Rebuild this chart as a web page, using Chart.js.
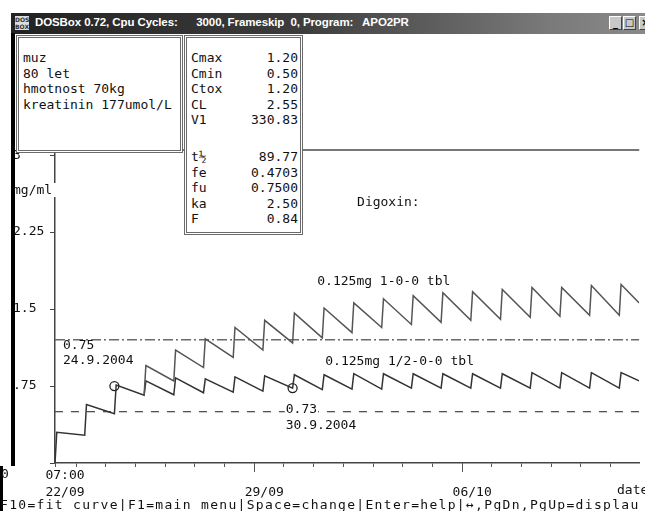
<!DOCTYPE html>
<html>
<head>
<meta charset="utf-8">
<title>APO2PR - Digoxin</title>
<script src="https://cdn.jsdelivr.net/npm/chart.js"></script>
<style>
  body { margin: 0; background: #fff; }
  #okno { position: relative; width: 645px; height: 511px; overflow: hidden; background: #fff; }
  #graf { position: absolute; left: 0; top: 0; }
  .dos { font-family: "DejaVu Sans Mono", monospace; font-size: 13px; color: #111; white-space: pre; }
  #titulek {
    position: absolute; left: 11px; top: 13px; width: 634px; height: 21px;
    background: linear-gradient(to right, #222 0%, #3c3c3c 45%, #7a7a7a 85%, #8a8a8a 100%);
  }
  #titulek .txt {
    position: absolute; left: 24px; top: 3px; color: #fff; font: bold 11.5px "Liberation Sans", sans-serif;
    white-space: pre; letter-spacing: -0.1px;
  }
  #titulek .ikona {
    position: absolute; left: 4px; top: 3px; width: 14px; height: 14px; background: #ddd;
    font: bold 6px "DejaVu Sans", sans-serif; line-height: 7px; color: #333; text-align: center;
  }
  .tl {
    position: absolute; top: 3px; width: 13px; height: 14px; background: #c8c8c8;
    border: 1px solid; border-color: #fff #444 #444 #fff; box-sizing: border-box;
    font: bold 10px "DejaVu Sans", sans-serif; line-height: 12px; text-align: center; color: #000;
  }
  #ram { position: absolute; left: 11px; top: 33px; width: 4px; height: 433px; background: #000; z-index: 5; }
  #ram2 { position: absolute; left: 0; top: 466px; width: 3px; height: 45px; background: #000; z-index: 5; }
  .box {
    position: absolute; top: 35px; box-sizing: border-box; background: #fff;
    border: 3px double #6a6a6a; z-index: 3;
  }
  #box1 { left: 16px; width: 167px; height: 118px; }
  #box2 { left: 184px; width: 119px; height: 200px; }
  .radky { position: absolute; line-height: 15.6px; }
  .radek { position: relative; height: 15.6px; }
  .radek .h { position: absolute; right: 0; top: 0; }
  #jednotka { position: absolute; left: 13px; top: 183px; height: 14px; width: 43px; line-height: 14px; background: #fff; z-index: 2; }
  #nula { position: absolute; left: 1px; top: 467px; line-height: 14px; z-index: 6; }
  #osa { position: absolute; left: 617px; top: 483px; line-height: 14px; }
  #stav { position: absolute; left: 0; top: 498px; line-height: 14px; letter-spacing: 1.31px; z-index: 6; }
</style>
</head>
<body>
<div id="okno">
  <canvas id="graf" width="645" height="511"></canvas>

  <div id="titulek">
    <div class="ikona">DOS<br>BOX</div>
    <div class="txt">DOSBox 0.72, Cpu Cycles:      3000, Frameskip  0, Program:   APO2PR</div>
    <div class="tl" style="left:598px">_</div>
    <div class="tl" style="left:612px">&#9633;</div>
    <div class="tl" style="left:628px">&#215;</div>
  </div>
  <div id="ram"></div>
  <div id="ram2"></div>

  <div class="box" id="box1">
    <div class="radky dos" id="pacient" style="left:4px; top:12px;"></div>
  </div>
  <div class="box" id="box2">
    <div class="radky dos" id="parA" style="left:4px; top:12px; width:107px;"></div>
    <div class="radky dos" id="parB" style="left:4px; top:111px; width:107px;"></div>
  </div>

  <div id="jednotka" class="dos">mg/ml</div>
  <div id="nula" class="dos">0</div>
  <div id="osa" class="dos">date</div>
  <div id="stav" class="dos">F10=fit curve|F1=main menu|Space=change|Enter=help|&#8596;,PgDn,PgUp=displau</div>
</div>

<script>
  // udaje o pacientovi a parametry modelu
  const pacient = ['muz', '80 let', 'hmotnost 70kg', 'kreatinin 177umol/L'];
  const parNazvy1 = ['Cmax', 'Cmin', 'Ctox', 'CL', 'V1'];
  const parHodnoty1 = ['1.20', '0.50', '1.20', '2.55', '330.83'];
  const parNazvy2 = ['t\u00bd', 'fe', 'fu', 'ka', 'F'];
  const parHodnoty2 = ['89.77', '0.4703', '0.7500', '2.50', '0.84'];

  const cmin = 0.50;
  const ctox = 1.20;

  // cas v dnech od 22/09 07:00, davka vzdy v 07:00
  const dnyDavek = [0, 1, 2, 3, 4, 5, 6, 7, 8, 9, 10, 11, 12, 13, 14, 15, 16, 17, 18, 19];
  // 0.125mg 1/2-0-0 tbl (od zacatku)
  const pulMinima = [0.00, 0.27, 0.48, 0.66, 0.665, 0.685, 0.69, 0.70, 0.73, 0.715, 0.72, 0.72, 0.73, 0.73, 0.73, 0.73, 0.73, 0.73, 0.73, 0.73];
  const pulMaxima = [0.30, 0.57, 0.76, 0.80, 0.83, 0.82, 0.84, 0.85, 0.86, 0.86, 0.87, 0.87, 0.87, 0.87, 0.87, 0.87, 0.88, 0.88, 0.88, 0.88];
  const pulKonec = 0.80;
  // 0.125mg 1-0-0 tbl (od 4. davky)
  const celaMinima = [0.66, 0.80, 0.93, 1.03, 1.10, 1.17, 1.22, 1.27, 1.32, 1.35, 1.37, 1.39, 1.40, 1.42, 1.43, 1.44, 1.44];
  const celaMaxima = [0.95, 1.10, 1.21, 1.32, 1.39, 1.46, 1.51, 1.56, 1.60, 1.63, 1.66, 1.67, 1.69, 1.71, 1.71, 1.73, 1.74];
  const celaKonec = 1.56;
  const celaOd = 3;

  // namerene hladiny
  const mereniDny = [2.0, 8.0];
  const mereniHodnoty = [0.75, 0.73];
  const mereniDatum = ['24.9.2004', '30.9.2004'];

  // osy
  const yTicks = [0, 0.75, 1.5, 2.25, 3];
  const yPopisky = ['', '.75', '1.5', '2.25', '3'];
  const xPopiskyDny = [0, 6.708, 13.708];
  const xPopisky = [['07:00', '22/09'], ['', '29/09'], ['', '06/10']];
  const pulnoc = 17 / 24;
  const xMax = 19.67;
  const yMax = 3.05;
  const zpozdeni = 0.06;

  // tabulky v rameckach
  document.getElementById('pacient').textContent = pacient.join('\n');
  function radky(el, nazvy, hodnoty) {
    nazvy.forEach((n, i) => {
      const r = document.createElement('div');
      r.className = 'radek';
      r.innerHTML = '<span></span><span class="h"></span>';
      r.children[0].textContent = n;
      r.children[1].textContent = hodnoty[i];
      el.appendChild(r);
    });
  }
  radky(document.getElementById('parA'), parNazvy1, parHodnoty1);
  radky(document.getElementById('parB'), parNazvy2, parHodnoty2);

  function krivka(dny, minima, maxima, konec) {
    const body = [];
    minima.forEach((c, i) => {
      body.push({ x: dny[i], y: c });
      body.push({ x: dny[i] + zpozdeni, y: maxima[i] });
    });
    body.push({ x: xMax, y: konec });
    return body;
  }

  const xTicks = [0];
  for (let d = pulnoc; d < xMax; d += 1) xTicks.push(d);

  const font = { family: '"DejaVu Sans Mono", monospace', size: 13 };

  // texty v grafu (souradnice v jednotkach os)
  const texty = [
    { t: 'Digoxin:', x: 10.17, y: 2.54 },
    { t: '0.125mg 1-0-0 tbl', x: 8.83, y: 1.765 },
    { t: '0.125mg 1/2-0-0 tbl', x: 9.1, y: 0.987 },
    { t: mereniHodnoty[0].toFixed(2), x: 0.27, y: 1.14 },
    { t: mereniDatum[0], x: 0.27, y: 0.993 },
    { t: mereniHodnoty[1].toFixed(2), x: 7.77, y: 0.518, bg: true },
    { t: mereniDatum[1], x: 7.77, y: 0.362 }
  ];

  const popisky = {
    id: 'popisky',
    afterDraw(chart) {
      const c = chart.ctx, a = chart.chartArea;
      const sx = chart.scales.x, sy = chart.scales.y;
      c.save();
      // horni hrana
      c.strokeStyle = '#777';
      c.lineWidth = 2;
      c.beginPath();
      c.moveTo(a.left, a.top);
      c.lineTo(a.right, a.top);
      c.stroke();
      // delsi znacky tydnu
      c.strokeStyle = '#555';
      c.lineWidth = 1;
      xPopiskyDny.slice(1).forEach(d => {
        const px = Math.round(sx.getPixelForValue(d)) + 0.5;
        c.beginPath();
        c.moveTo(px, a.bottom);
        c.lineTo(px, a.bottom + 9);
        c.stroke();
      });
      c.font = '13px "DejaVu Sans Mono", monospace';
      c.textBaseline = 'middle';
      c.textAlign = 'left';
      texty.forEach(o => {
        const px = sx.getPixelForValue(o.x), py = sy.getPixelForValue(o.y);
        if (o.bg) {
          c.fillStyle = '#fff';
          c.fillRect(px - 1, py - 6, c.measureText(o.t).width + 2, 12);
        }
        c.fillStyle = '#111';
        c.fillText(o.t, px, py);
      });
      c.restore();
    }
  };

  const ctx = document.getElementById('graf').getContext('2d');
  new Chart(ctx, {
    type: 'scatter',
    data: {
      datasets: [
        {
          label: '0.125mg 1-0-0 tbl',
          data: krivka(dnyDavek.slice(celaOd), celaMinima, celaMaxima, celaKonec),
          showLine: true, borderColor: '#555', borderWidth: 1.5, pointRadius: 0
        },
        {
          label: '0.125mg 1/2-0-0 tbl',
          data: krivka(dnyDavek, pulMinima, pulMaxima, pulKonec),
          showLine: true, borderColor: '#333', borderWidth: 1.5, pointRadius: 0
        },
        {
          label: 'Ctox',
          data: [{ x: 0, y: ctox }, { x: xMax, y: ctox }],
          showLine: true, borderColor: '#6a6a6a', borderWidth: 1.5, borderDash: [10, 3, 2, 3], pointRadius: 0
        },
        {
          label: 'Cmin',
          data: [{ x: 0, y: cmin }, { x: xMax, y: cmin }],
          showLine: true, borderColor: '#444', borderWidth: 1.2, borderDash: [8, 8], pointRadius: 0
        },
        {
          label: 'mereni',
          data: mereniDny.map((d, i) => ({ x: d, y: mereniHodnoty[i] })),
          showLine: false, pointRadius: 4.5, pointBorderWidth: 1.3,
          pointBorderColor: '#222', pointBackgroundColor: 'rgba(0,0,0,0)'
        }
      ]
    },
    options: {
      responsive: false,
      animation: false,
      layout: { padding: { top: 150, left: 13, right: 0, bottom: 0 } },
      plugins: { legend: { display: false }, tooltip: { enabled: false } },
      scales: {
        x: {
          type: 'linear', min: 0, max: xMax,
          afterFit(s) { s.height = 48; },
          afterBuildTicks(s) { s.ticks = xTicks.map(v => ({ value: v })); },
          border: { color: '#444', width: 1.5 },
          grid: { drawOnChartArea: false, tickLength: 4, color: '#555' },
          ticks: {
            autoSkip: false, maxRotation: 0, padding: 0, labelOffset: 10, color: '#111',
            font: { family: font.family, size: 13, lineHeight: 1.3 },
            callback(v) {
              const i = xPopiskyDny.findIndex(d => Math.abs(d - v) < 0.01);
              return i < 0 ? '' : xPopisky[i];
            }
          }
        },
        y: {
          type: 'linear', min: 0, max: yMax,
          afterFit(s) { s.width = 42; },
          afterBuildTicks(s) { s.ticks = yTicks.map(v => ({ value: v })); },
          border: { color: '#444', width: 1.5 },
          grid: { drawOnChartArea: false, tickLength: 5, color: '#444' },
          ticks: {
            crossAlign: 'far', padding: 0, color: '#111', font: font,
            callback(v) {
              const i = yTicks.indexOf(v);
              return i < 0 ? '' : yPopisky[i];
            }
          }
        }
      }
    },
    plugins: [popisky]
  });
</script>
</body>
</html>
